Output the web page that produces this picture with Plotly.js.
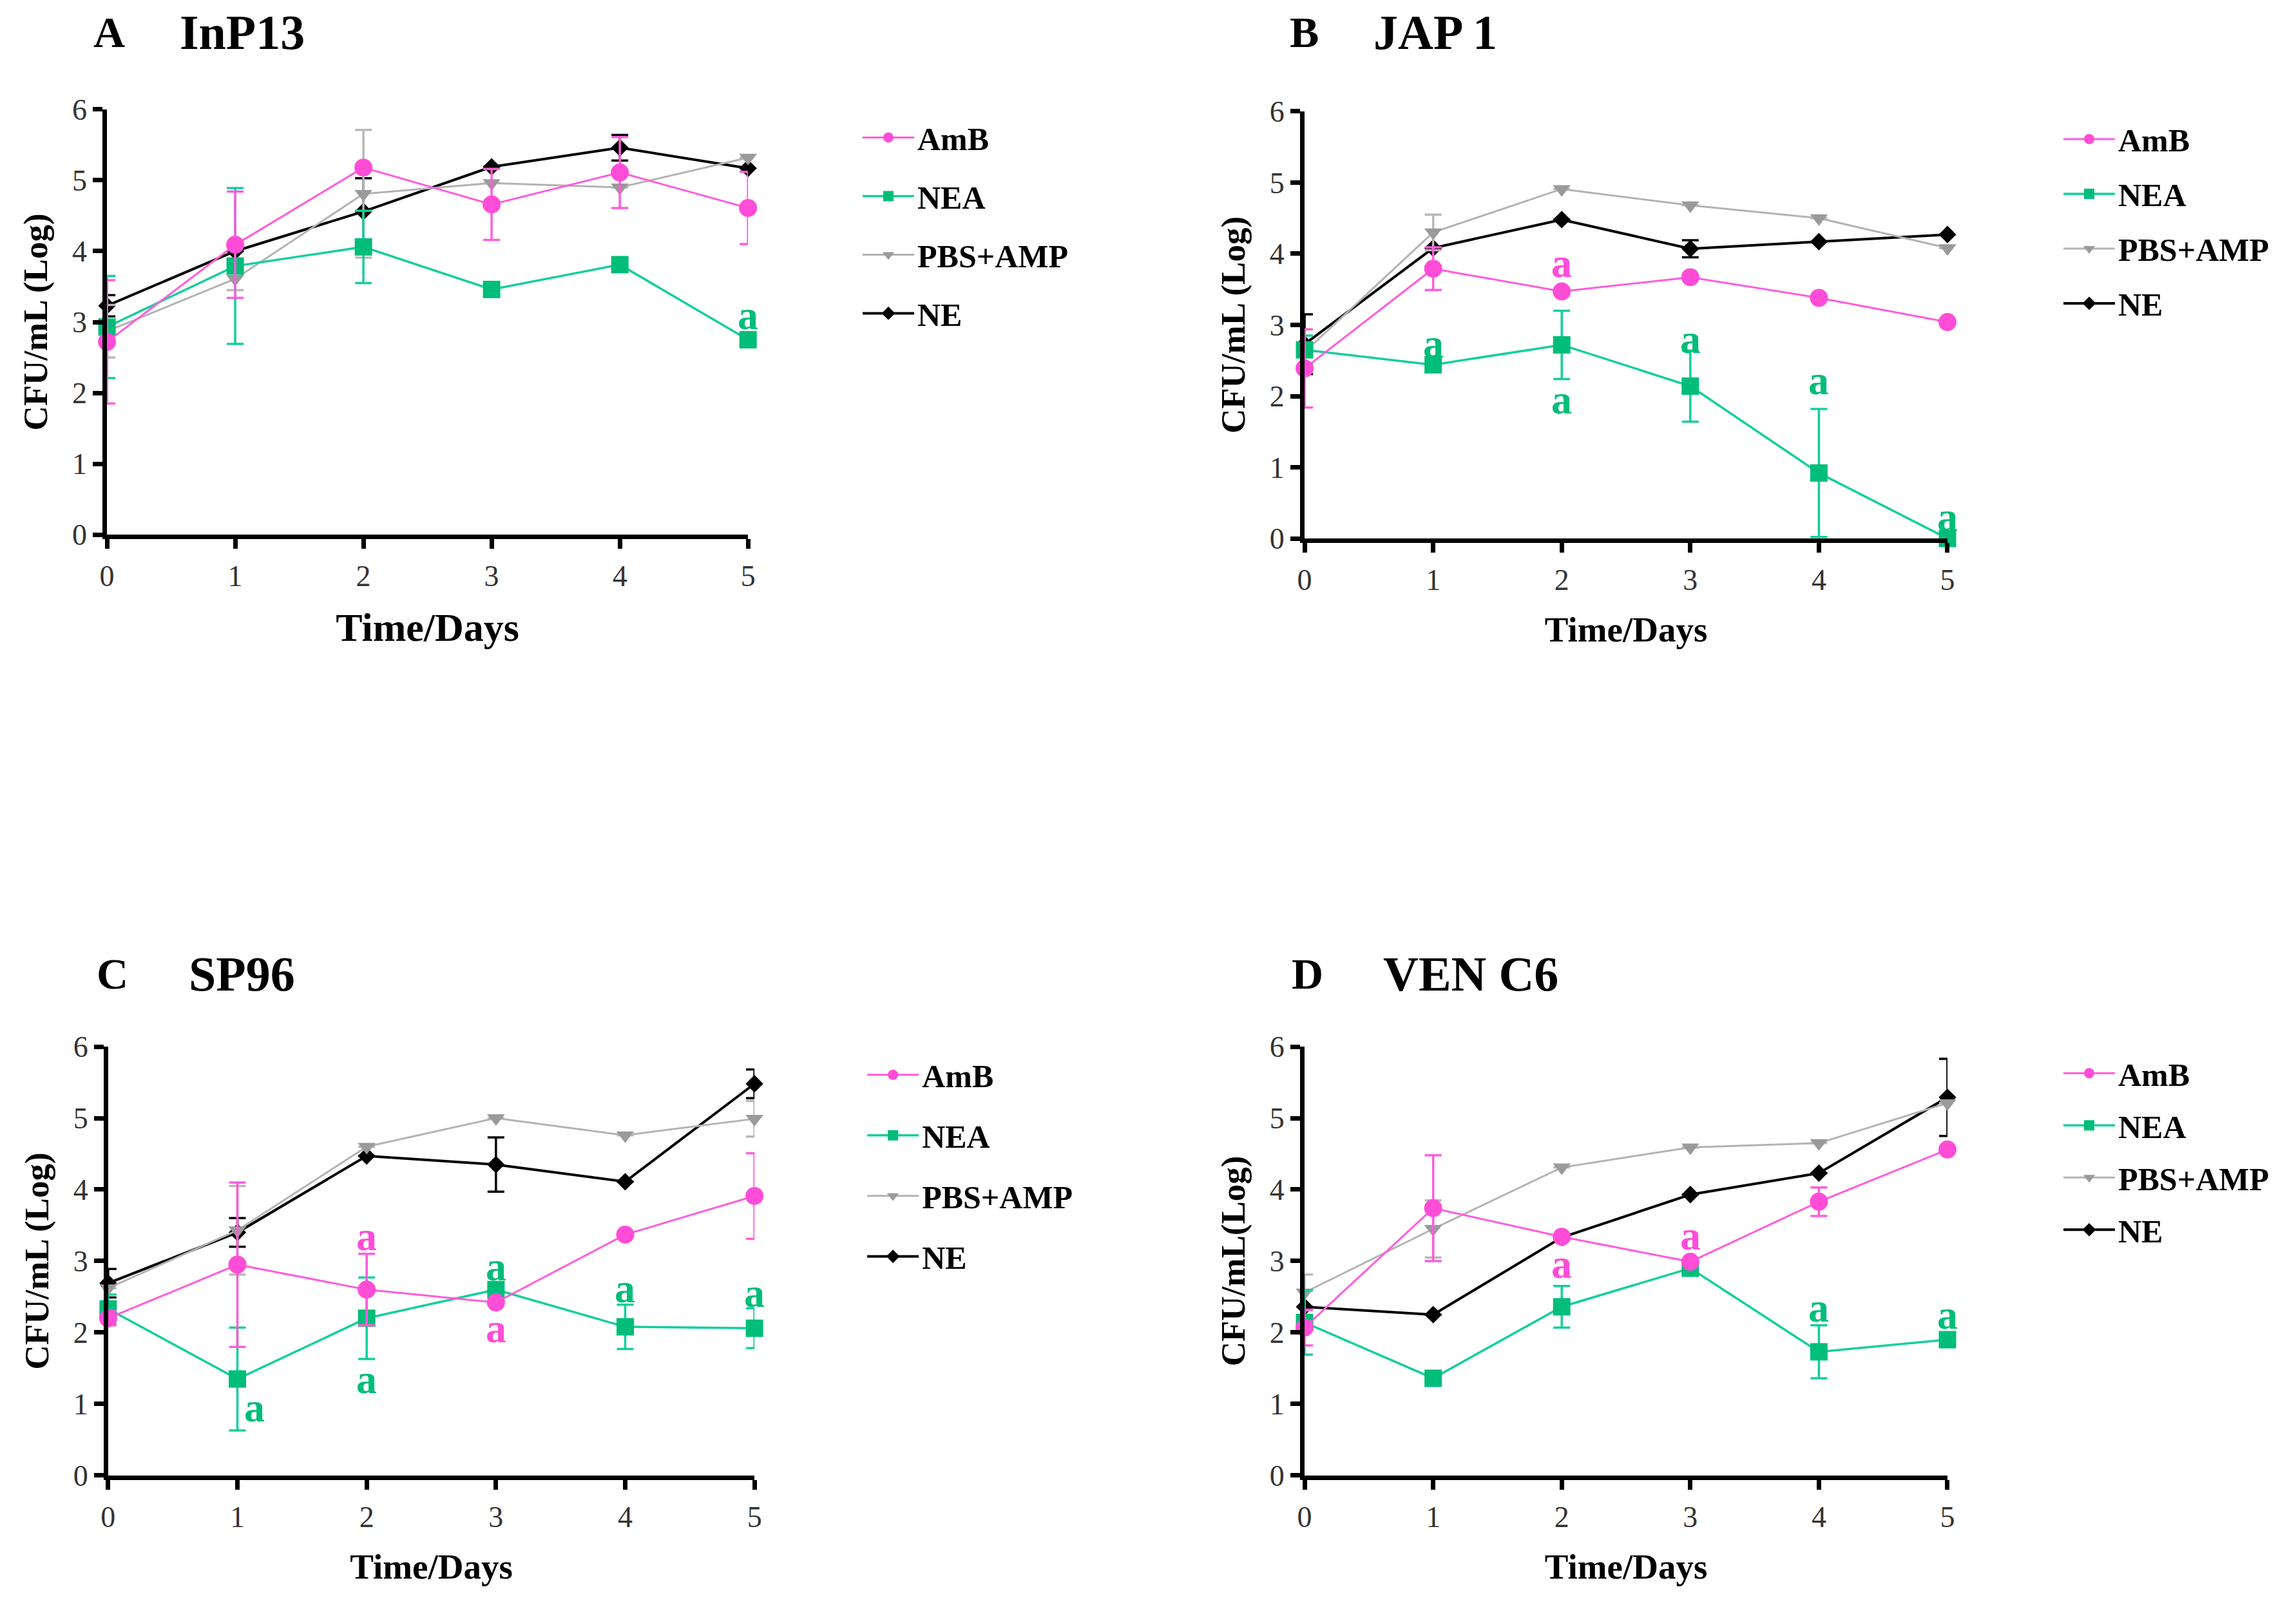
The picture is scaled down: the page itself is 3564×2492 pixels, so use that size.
<!DOCTYPE html>
<html><head><meta charset="utf-8">
<script src="https://cdn.plot.ly/plotly-3.0.1.min.js"></script>
<style>html,body{margin:0;padding:0;background:#fff}#chart{width:3564px;height:2492px}</style>
</head><body><div id="chart"></div>
<script>
// ---------- DATA ----------
const days = [0, 1, 2, 3, 4, 5];
const seriesNames = ["AmB", "NEA", "PBS+AMP", "NE"];
const panelLetters = ["A", "B", "C", "D"];
const panelStrains = ["InP13", "JAP 1", "SP96", "VEN C6"];
const yTitles = ["CFU/mL (Log)", "CFU/mL (Log)", "CFU/mL (Log)", "CFU/mL(Log)"];
const xTitle = "Time/Days";
const xTicks = [0, 1, 2, 3, 4, 5];
const yTicks = [0, 1, 2, 3, 4, 5, 6];

// Panel A – InP13
const ambA = [2.72, 4.09, 5.18, 4.66, 5.11, 4.61];
const ambAerr = [0.87, 0.75, null, 0.5, 0.5, 0.51];
const neaA = [2.93, 3.79, 4.06, 3.46, 3.81, 2.75];
const neaAerr = [0.72, 1.1, 0.51, null, null, null];
const pbsA = [2.87, 3.61, 4.81, 4.96, 4.9, 5.32];
const pbsAerr = [0.37, 0.16, 0.9, null, null, null];
const neA = [3.23, 4.0, 4.56, 5.19, 5.46, 5.17];
const neAerr = [0.15, null, 0.47, null, 0.18, null];

// Panel B – JAP 1
const ambB = [2.39, 3.79, 3.47, 3.67, 3.38, 3.04];
const ambBerr = [0.55, 0.3, null, null, null, null];
const neaB = [2.65, 2.44, 2.72, 2.14, 0.92, 0.0];
const neaBerr = [0.2, null, 0.48, 0.5, 0.9, null];
const pbsB = [2.62, 4.3, 4.91, 4.68, 4.5, 4.08];
const pbsBerr = [null, 0.25, null, null, null, null];
const neB = [2.73, 4.08, 4.48, 4.07, 4.17, 4.27];
const neBerr = [0.42, null, null, 0.12, null, null];

// Panel C – SP96
const ambC = [2.2, 2.95, 2.6, 2.42, 3.37, 3.91];
const ambCerr = [0.1, 1.15, 0.5, null, null, 0.6];
const neaC = [2.33, 1.35, 2.2, 2.6, 2.08, 2.06];
const neaCerr = [0.2, 0.72, 0.57, null, 0.31, 0.28];
const pbsC = [2.62, 3.43, 4.6, 5.0, 4.76, 4.99];
const pbsCerr = [null, 0.62, null, null, null, 0.25];
const neC = [2.69, 3.4, 4.47, 4.35, 4.11, 5.48];
const neCerr = [0.2, 0.2, null, 0.38, null, 0.2];

// Panel D – VEN C6
const ambD = [2.07, 3.74, 3.34, 2.99, 3.83, 4.56];
const ambDerr = [0.25, 0.74, null, null, 0.2, null];
const neaD = [2.14, 1.36, 2.36, 2.9, 1.73, 1.9];
const neaDerr = [0.45, null, 0.29, null, 0.37, null];
const pbsD = [2.56, 3.45, 4.31, 4.59, 4.65, 5.21];
const pbsDerr = [0.25, 0.4, null, null, null, null];
const neD = [2.36, 2.25, 3.33, 3.93, 4.23, 5.29];
const neDerr = [null, null, null, null, null, 0.54];

// significance letters: panel index, day, y position, series index
const sigPanel = [0, 1, 1, 1, 1, 1, 1, 1, 2, 2, 2, 2, 2, 2, 2, 3, 3, 3, 3];
const sigDay   = [5, 2, 1, 2, 3, 4, 5, 2, 2, 3, 1.13, 2, 3, 4, 5, 2, 3, 4, 5];
const sigY     = [3.1, 3.87, 2.74, 1.95, 2.8, 2.22, 0.3, 3.87, 3.35, 2.06, 0.95, 1.35, 2.92, 2.62, 2.55, 2.96, 3.36, 2.35, 2.25];
const sigSeries= [1, 0, 1, 1, 1, 1, 1, 0, 0, 0, 1, 1, 1, 1, 1, 0, 0, 1, 1];
const sigText = "a";

// ---------- STYLE ----------
const lineColors = ["#FF5CDB", "#12CF9D", "#B3B3B3", "#000000"];
const errColors = ["#FF5CDB", "#12CF9D", "#B8B8B8", "#000000"];
const markerColors = ["#FF4DD8", "#00BD79", "#9A9A9C", "#000000"];
const symbols = ["circle", "square", "triangle-down", "diamond"];
const mSizes = [28, 27, 24, 21];
const lWidths = [3, 3.5, 3, 4];
const serif = "Liberation Serif, Times New Roman, serif";

const panelData = [
  [[ambA, ambAerr], [neaA, neaAerr], [pbsA, pbsAerr], [neA, neAerr]],
  [[ambB, ambBerr], [neaB, neaBerr], [pbsB, pbsBerr], [neB, neBerr]],
  [[ambC, ambCerr], [neaC, neaCerr], [pbsC, pbsCerr], [neC, neCerr]],
  [[ambD, ambDerr], [neaD, neaDerr], [pbsD, pbsDerr], [neD, neDerr]]
];

const xDomains = [[0.0466, 0.3258], [0.5682, 0.8482], [0.0471, 0.3286], [0.5682, 0.8482]];
const yDomains = [[0.6669, 0.9318], [0.6645, 0.9306], [0.0807, 0.3479], [0.0807, 0.3479]];
const legendPos = [[0.3743, 0.930, 23], [0.8973, 0.929, 17], [0.3763, 0.346, 26], [0.8973, 0.347, 13]];
const xTitleSizes = [62, 55, 55, 55];
const titlePos = [[143, 277, 50], [2000, 2130, 50], [148, 291, 1512], [2003, 2145, 1512]];

const traces = [];
const layout = {
  width: 3564, height: 2492,
  margin: {l: 0, r: 0, t: 0, b: 0},
  paper_bgcolor: "#ffffff", plot_bgcolor: "#ffffff",
  font: {family: serif, color: "#000"},
  showlegend: true,
  annotations: []
};

for (let p = 0; p < 4; p++) {
  const sfx = p === 0 ? "" : String(p + 1);
  const legName = "legend" + sfx;
  // draw order: NE, PBS+AMP, NEA, AmB (AmB on top)
  for (const s of [3, 2, 1, 0]) {
    const [vals, errs] = panelData[p][s];
    traces.push({
      type: "scatter", mode: "lines+markers",
      x: days, y: vals,
      xaxis: "x" + sfx, yaxis: "y" + sfx,
      name: seriesNames[s],
      legend: legName,
      legendgroup: "g" + p + "_" + s,
      legendrank: s + 1,
      cliponaxis: false,
      line: {color: lineColors[s], width: lWidths[s]},
      marker: {symbol: symbols[s], size: mSizes[s], color: markerColors[s]},
      error_y: {type: "data", array: errs, symmetric: true, visible: true,
                color: errColors[s], thickness: 3.5, width: 13}
    });
  }
  layout["xaxis" + sfx] = {
    domain: xDomains[p], anchor: "y" + sfx,
    range: [0, 5], tickvals: xTicks, ticktext: xTicks.map(String),
    showline: true, linecolor: "#000", linewidth: 7,
    ticks: "outside", ticklen: 15, tickwidth: 7, tickcolor: "#000",
    ticklabelstandoff: 3,
    tickfont: {family: serif, size: 46, color: "#333"},
    showgrid: false, zeroline: false, fixedrange: true,
    title: {text: xTitle, standoff: 35, font: {family: serif, size: xTitleSizes[p], weight: "bold", color: "#000"}}
  };
  layout["yaxis" + sfx] = {
    domain: yDomains[p], anchor: "x" + sfx,
    range: [0, 6], tickvals: yTicks, ticktext: yTicks.map(String),
    showline: true, linecolor: "#000", linewidth: 7,
    ticks: "outside", ticklen: 15, tickwidth: 7, tickcolor: "#000",
    tickfont: {family: serif, size: 46, color: "#333"},
    showgrid: false, zeroline: false, fixedrange: true,
    title: {text: yTitles[p], standoff: 24, font: {family: serif, size: 53, weight: "bold", color: "#000"}}
  };
  layout[legName] = {
    x: legendPos[p][0], y: legendPos[p][1], xanchor: "left", yanchor: "top",
    bgcolor: "rgba(0,0,0,0)", borderwidth: 0,
    traceorder: "grouped", tracegroupgap: legendPos[p][2],
    itemwidth: 80,
    font: {family: serif, size: 50, weight: "bold", color: "#000"}
  };
  // panel titles
  layout.annotations.push({
    xref: "paper", yref: "paper", x: titlePos[p][0] / 3564, y: 1 - titlePos[p][2] / 2492,
    xanchor: "left", yanchor: "middle", showarrow: false,
    text: panelLetters[p], font: {family: serif, size: 68, weight: "bold", color: "#000"}
  });
  layout.annotations.push({
    xref: "paper", yref: "paper", x: titlePos[p][1] / 3564, y: 1 - titlePos[p][2] / 2492,
    xanchor: "left", yanchor: "middle", showarrow: false,
    text: panelStrains[p], font: {family: serif, size: 76, weight: "bold", color: "#000"}
  });
}

for (let i = 0; i < sigPanel.length; i++) {
  const p = sigPanel[i];
  const sfx = p === 0 ? "" : String(p + 1);
  layout.annotations.push({
    xref: "x" + sfx, yref: "y" + sfx, x: sigDay[i], y: sigY[i],
    xanchor: "center", yanchor: "middle", showarrow: false,
    text: sigText, font: {family: serif, size: 64, weight: "bold", color: markerColors[sigSeries[i]]}
  });
}

Plotly.newPlot("chart", traces, layout, {staticPlot: true, displayModeBar: false});
</script>
</body></html>
